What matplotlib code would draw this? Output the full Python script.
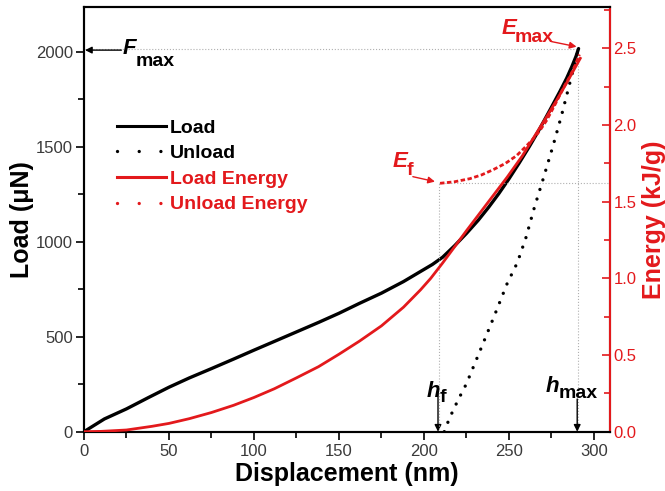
import matplotlib
matplotlib.use("Agg")
import matplotlib.pyplot as plt
from matplotlib.lines import Line2D
from matplotlib.ticker import MultipleLocator, FormatStrFormatter

plt.rcParams['font.family'] = ['Liberation Sans', 'DejaVu Sans']

# ---- data ----
load_disp = [0, 5, 12, 25, 38, 50, 62, 75, 88, 100, 112, 125, 138, 150, 162, 175, 188,
             198, 205, 211, 218, 225, 232, 238, 244, 250, 256, 262, 268, 274, 280,
             284, 287, 289.5, 291]
load_force = [0, 28, 67, 120, 180, 234, 283, 332, 382, 429, 475, 525, 575, 623, 675, 729, 790,
              843, 880, 918, 978, 1043, 1113, 1180, 1252, 1330, 1413, 1500, 1592, 1690, 1790,
              1860, 1920, 1975, 2016]

unload_disp = [212, 215, 220, 225, 233, 241, 249, 255, 260, 265, 270, 276, 281, 285, 288, 291]
unload_force = [0, 70, 165, 252, 425, 600, 780, 890, 1020, 1180, 1325, 1505, 1665, 1805, 1910, 2016]

energy_disp = [0, 10, 25, 40, 50, 62, 75, 88, 100, 112, 125, 138, 150, 162, 175, 188, 198,
               204, 211, 217, 225, 237, 249, 258, 265, 272, 278, 284, 288, 292]
energy_load = [0, 0.002, 0.011, 0.035, 0.054, 0.085, 0.125, 0.172, 0.223, 0.28, 0.351, 0.424,
               0.505, 0.59, 0.69, 0.812, 0.925, 1.0, 1.10, 1.19, 1.31, 1.485, 1.66, 1.80, 1.925,
               2.05, 2.16, 2.275, 2.355, 2.435]

uenergy_disp = [209.5, 218, 227, 234, 241, 248, 254.5, 260, 264.3, 268, 272.2, 277, 282, 286, 289, 291.5]
uenergy_val = [1.62, 1.63, 1.65, 1.675, 1.71, 1.75, 1.80, 1.86, 1.91, 1.96, 2.03, 2.13, 2.24,
               2.32, 2.39, 2.46]

F_max = 2016
h_max = 290.5
h_f = 209
E_f = 1.62

x_ticks = [0, 50, 100, 150, 200, 250, 300]
y_ticks = [0, 500, 1000, 1500, 2000]
e_ticks = [0.0, 0.5, 1.0, 1.5, 2.0, 2.5]

RED = '#e3191c'
TICKC = '#3a3a3a'
GRAY = '#b0b0b0'

fig = plt.figure(figsize=(6.65, 4.91), dpi=100)
ax = fig.add_axes([0.1263, 0.1208, 0.791, 0.865])
ax2 = ax.twinx()

ax.set_xlim(0, 309.5)
ax.set_ylim(0, 2235)
ax2.set_ylim(0, 2.77)

# reference lines
ax.plot([0, h_max], [F_max, F_max], color=GRAY, lw=0.8, ls=':', zorder=1)
ax.plot([h_max, h_max], [0, F_max], color=GRAY, lw=0.8, ls=':', zorder=1)
ax2.plot([h_f, 309.5], [E_f, E_f], color=GRAY, lw=0.8, ls=':', zorder=1)
ax2.plot([h_f, h_f], [0, E_f], color=GRAY, lw=0.8, ls=':', zorder=1)

# curves
ax.plot(load_disp, load_force, color='black', lw=2.4, solid_joinstyle='round',
        solid_capstyle='round', zorder=3)
ax.plot(unload_disp, unload_force, color='black', lw=2.4, ls=(0, (0.01, 3.0)),
        dash_capstyle='round', zorder=3)
ax2.plot(energy_disp, energy_load, color=RED, lw=2.0, solid_joinstyle='round', zorder=4)
ax2.plot(uenergy_disp, uenergy_val, color=RED, lw=2.0, ls=(0, (1.6, 0.9)), zorder=4)

# ticks
for a in (ax, ax2):
    a.tick_params(which='both', width=1.2)
    a.tick_params(which='major', length=6)
    a.tick_params(which='minor', length=4)
ax.tick_params(which='both', direction='out')
ax2.tick_params(which='both', direction='in')
ax.set_xticks(x_ticks)
ax.set_yticks(y_ticks)
ax.xaxis.set_minor_locator(MultipleLocator(25))
ax.yaxis.set_minor_locator(MultipleLocator(250))
ax2.set_yticks(e_ticks)
ax2.yaxis.set_minor_locator(MultipleLocator(0.25))
ax2.yaxis.set_major_formatter(FormatStrFormatter('%.1f'))
ax.tick_params(axis='both', labelsize=12, labelcolor=TICKC, pad=2)
ax.tick_params(axis='x', pad=3)
ax2.tick_params(axis='y', labelsize=12, labelcolor=RED, colors=RED, pad=2.5)
ax2.tick_params(axis='y', which='both', color=RED)

for s in ax.spines.values():
    s.set_linewidth(1.5)
for s in ax2.spines.values():
    s.set_linewidth(1.5)
ax2.spines['right'].set_color(RED)

ax.set_xlabel('Displacement (nm)', fontsize=18, fontweight='bold', labelpad=2)
ax.set_ylabel('Load (μN)', fontsize=18, fontweight='bold', labelpad=1.5)
ax2.set_ylabel('Energy (kJ/g)', fontsize=18, fontweight='bold', color=RED, labelpad=4)

# legend
handles = [
    Line2D([], [], color='black', lw=2.2),
    Line2D([], [], color='black', lw=2.4, ls=(0, (0.01, 6.5)), dash_capstyle='round'),
    Line2D([], [], color=RED, lw=2.2),
    Line2D([], [], color=RED, lw=2.4, ls=(0, (0.01, 6.5)), dash_capstyle='round'),
]
labels = ['Load', 'Unload', 'Load Energy', 'Unload Energy']
leg = ax.legend(handles, labels, loc='upper left', bbox_to_anchor=(0.0626, 0.736),
                frameon=False, prop={'size': 14, 'weight': 'bold'},
                handlelength=2.5, handletextpad=0.22, labelspacing=0.41,
                borderpad=0, borderaxespad=0)
for t, c in zip(leg.get_texts(), ['black', 'black', RED, RED]):
    t.set_color(c)

# annotations
arrow_k = dict(arrowstyle='-|>', color='black', lw=1.0, mutation_scale=10,
               shrinkA=0, shrinkB=0)
arrow_r = dict(arrowstyle='-|>', color=RED, lw=1.0, mutation_scale=10,
               shrinkA=0, shrinkB=0)

# F_max
ax.annotate('', xy=(0.6, 2008), xytext=(22, 2008), arrowprops=arrow_k)
ax.text(23, 1985, 'F', fontsize=16, fontweight='bold', fontstyle='italic', color='black')
ax.text(30.5, 1925, 'max', fontsize=14, fontweight='bold', color='black')

# E_max
ax.annotate('', xy=(289.8, 2026), xytext=(275, 2053), arrowprops=arrow_r)
ax.text(245.5, 2092, 'E', fontsize=16, fontweight='bold', fontstyle='italic', color=RED)
ax.text(253.5, 2050, 'max', fontsize=14, fontweight='bold', color=RED)

# E_f
ax.annotate('', xy=(206.5, 1316), xytext=(193.5, 1342), arrowprops=arrow_r)
ax.text(181.5, 1393, 'E', fontsize=16, fontweight='bold', fontstyle='italic', color=RED)
ax.text(190, 1351, 'f', fontsize=14, fontweight='bold', color=RED)

# h_f
ax.annotate('', xy=(h_f - 0.7, 0), xytext=(h_f - 0.7, 235), arrowprops=arrow_k)
ax.text(201.5, 183, 'h', fontsize=16, fontweight='bold', fontstyle='italic', color='black')
ax.text(209.2, 158, 'f', fontsize=14, fontweight='bold', color='black')

# h_max
ax.annotate('', xy=(h_max - 0.3, 0), xytext=(h_max - 0.3, 172), arrowprops=arrow_k)
ax.text(271.5, 210, 'h', fontsize=16, fontweight='bold', fontstyle='italic', color='black')
ax.text(279, 177, 'max', fontsize=14, fontweight='bold', color='black')

fig.savefig('out.png', dpi=100)
